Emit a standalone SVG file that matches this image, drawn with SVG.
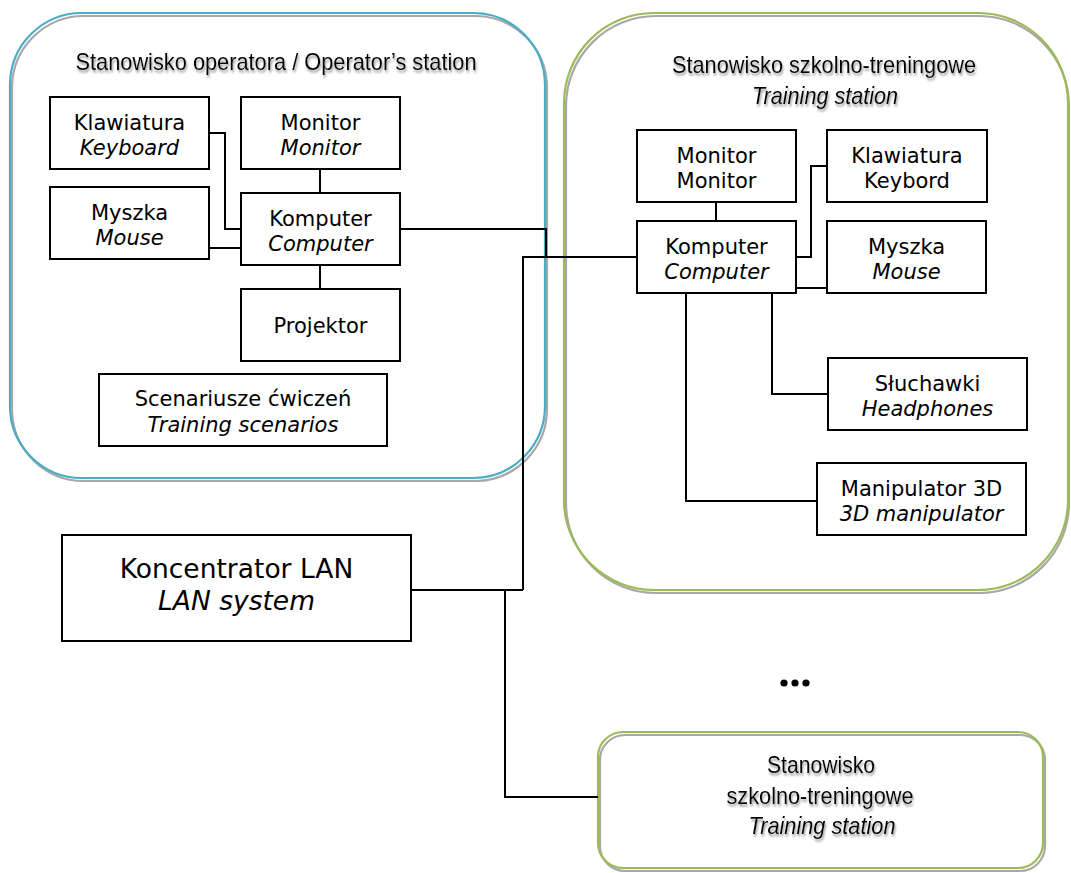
<svg xmlns="http://www.w3.org/2000/svg" width="1071" height="873" viewBox="0 0 1071 873">
<style>
.box{fill:#fff;stroke:#000;stroke-width:2}
.t{font-family:"DejaVu Sans",Verdana,sans-serif;font-size:21px;fill:#000;text-anchor:middle}
.big{font-size:26.5px}
.i{font-style:italic}
.ti{font-family:"Liberation Sans Narrow","Liberation Sans",Arial,sans-serif;font-size:24px;fill:#000;text-anchor:middle;filter:url(#tshadow)}
.cshadow{fill:none;stroke:#a8a8a8;stroke-width:2.2}
.blue{fill:none;stroke:#4bacc6;stroke-width:2.2}
.green{fill:none;stroke:#9bbb59;stroke-width:2.2}
.conn path{fill:none;stroke:#000;stroke-width:2}
</style>
<defs>
<filter id="tshadow" x="-5%" y="-30%" width="115%" height="170%">
<feDropShadow dx="1" dy="2.5" stdDeviation="0.9" flood-color="#8a8a8a" flood-opacity="0.9"/>
</filter>
</defs>
<rect width="1071" height="873" fill="#fff"/>

<g id="operator-station">
<rect class="cshadow" x="12" y="16" width="535" height="465" rx="72"/>
<rect class="blue" x="10" y="13" width="535" height="465" rx="72"/>
<text class="ti" x="276" y="70" textLength="401" lengthAdjust="spacingAndGlyphs">Stanowisko operatora / Operator’s station</text>
</g>

<g id="training-station">
<rect class="cshadow" x="566" y="16" width="503" height="577" rx="90"/>
<rect class="green" x="564" y="13" width="504" height="577" rx="90"/>
<text class="ti" x="824" y="73" textLength="304" lengthAdjust="spacingAndGlyphs">Stanowisko szkolno-treningowe</text>
<text class="ti i" x="825" y="104" textLength="146" lengthAdjust="spacingAndGlyphs">Training station</text>
</g>

<g id="training-station-2">
<rect class="cshadow" x="600" y="735" width="445" height="136" rx="25"/>
<rect class="green" x="598" y="732" width="445" height="136" rx="25"/>
<text class="ti" x="821" y="773" textLength="108" lengthAdjust="spacingAndGlyphs">Stanowisko</text>
<text class="ti" x="820" y="804" textLength="187" lengthAdjust="spacingAndGlyphs">szkolno-treningowe</text>
<text class="ti i" x="822" y="834" textLength="147" lengthAdjust="spacingAndGlyphs">Training station</text>
</g>

<g class="conn" id="connectors">
<path d="M209,133 H225 V229 H241"/>
<path d="M209,248 H241"/>
<path d="M320,169 V193"/>
<path d="M320,265 V289"/>
<path d="M400,229 H546 V257"/>
<path d="M523,590 V257 H637"/>
<path d="M716,202 V221"/>
<path d="M796,257 H811 V166 H827"/>
<path d="M796,288 H827"/>
<path d="M772,293 V394 H828"/>
<path d="M686,291 V501 H817"/>
<path d="M411,590 H523"/>
<path d="M505,590 V797 H598"/>
</g>

<g id="op-keyboard"><rect class="box" x="50" y="97" width="159" height="72"/><text class="t" x="129.5" y="130">Klawiatura</text><text class="t i" x="129.5" y="155">Keyboard</text></g>
<g id="op-monitor"><rect class="box" x="241" y="97" width="159" height="72"/><text class="t" x="320.5" y="130">Monitor</text><text class="t i" x="320.5" y="155">Monitor</text></g>
<g id="op-mouse"><rect class="box" x="50" y="187" width="159" height="72"/><text class="t" x="129.5" y="220">Myszka</text><text class="t i" x="129.5" y="245">Mouse</text></g>
<g id="op-computer"><rect class="box" x="241" y="193" width="159" height="72"/><text class="t" x="320.5" y="226">Komputer</text><text class="t i" x="320.5" y="251">Computer</text></g>
<g id="op-projector"><rect class="box" x="241" y="289" width="159" height="72"/><text class="t" x="320.5" y="333">Projektor</text></g>
<g id="op-scenarios"><rect class="box" x="99" y="374" width="288" height="72"/><text class="t" x="243" y="406">Scenariusze ćwiczeń</text><text class="t i" x="243" y="432">Training scenarios</text></g>

<g id="tr-monitor"><rect class="box" x="637" y="130" width="159" height="72"/><text class="t" x="716.5" y="163">Monitor</text><text class="t" x="716.5" y="188">Monitor</text></g>
<g id="tr-keyboard"><rect class="box" x="827" y="130" width="160" height="72"/><text class="t" x="907" y="163">Klawiatura</text><text class="t" x="907" y="188">Keybord</text></g>
<g id="tr-computer"><rect class="box" x="637" y="221" width="159" height="72"/><text class="t" x="716.5" y="254">Komputer</text><text class="t i" x="716.5" y="279">Computer</text></g>
<g id="tr-mouse"><rect class="box" x="827" y="221" width="159" height="72"/><text class="t" x="906.5" y="254">Myszka</text><text class="t i" x="906.5" y="279">Mouse</text></g>
<g id="tr-headphones"><rect class="box" x="828" y="358" width="199" height="72"/><text class="t" x="927.5" y="391">Słuchawki</text><text class="t i" x="927.5" y="416">Headphones</text></g>
<g id="tr-manipulator"><rect class="box" x="817" y="463" width="209" height="72"/><text class="t" x="921.5" y="496">Manipulator 3D</text><text class="t i" x="921.5" y="521">3D manipulator</text></g>

<g id="lan"><rect class="box" x="62" y="535" width="349" height="106"/><text class="t big" x="236.5" y="578">Koncentrator LAN</text><text class="t big i" x="236.5" y="610">LAN system</text></g>

<g id="ellipsis"><circle cx="784" cy="683" r="3.6"/><circle cx="795" cy="683" r="3.6"/><circle cx="806" cy="683" r="3.6"/></g>
</svg>
